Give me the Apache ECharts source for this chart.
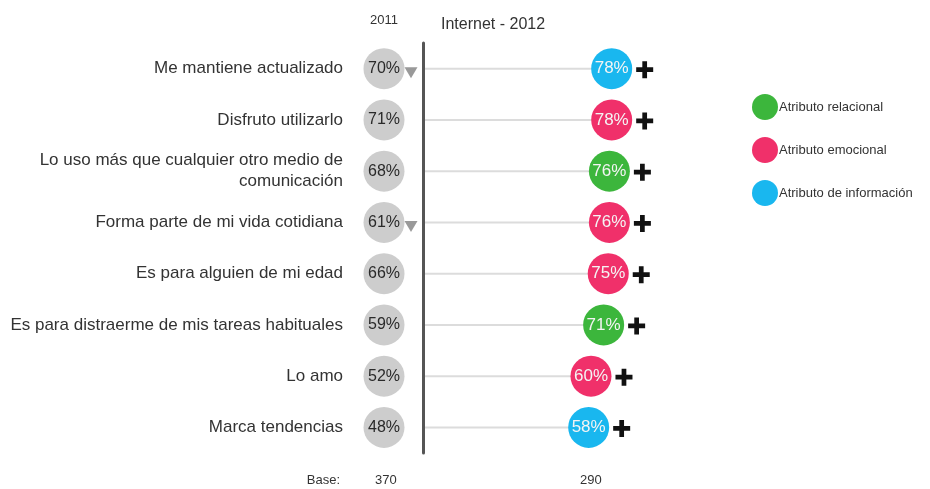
<!DOCTYPE html>
<html>
<head>
<meta charset="utf-8">
<script src="https://cdn.jsdelivr.net/npm/echarts@6/dist/echarts.min.js"></script>
<style>
html,body{margin:0;padding:0;background:#fff;}
#chart{width:930px;height:489px;}
</style>
</head>
<body>
<div id="chart"></div>
<script>
// ---- data ----
const categories = [
  'Me mantiene actualizado',
  'Disfruto utilizarlo',
  'Lo uso más que cualquier otro medio de\ncomunicación',
  'Forma parte de mi vida cotidiana',
  'Es para alguien de mi edad',
  'Es para distraerme de mis tareas habituales',
  'Lo amo',
  'Marca tendencias'
];
const values2011 = [70, 71, 68, 61, 66, 59, 52, 48];
const values2012 = [78, 78, 76, 76, 75, 71, 60, 58];
const attributeTypes = [
  'Atributo de información', 'Atributo emocional', 'Atributo relacional', 'Atributo emocional',
  'Atributo emocional', 'Atributo relacional', 'Atributo emocional', 'Atributo de información'
];
const declined2011 = [true, false, false, true, false, false, false, false];
const increased2012 = [true, true, true, true, true, true, true, true];
const legendNames = ['Atributo relacional', 'Atributo emocional', 'Atributo de información'];
const yearLabel2011 = '2011';
const yearLabel2012 = 'Internet - 2012';
const baseLabel = 'Base:';
const baseValues = [370, 290];

// ---- styles ----
const FONT = "'Liberation Sans', Arial, sans-serif";
const attrColors = {
  'Atributo relacional': '#3cb63c',
  'Atributo emocional': '#f0306a',
  'Atributo de información': '#19b7ef'
};
const PLUS = 'path://M6.5,0H11.5V6.5H18V11.5H11.5V18H6.5V11.5H0V6.5H6.5Z';

const chart = echarts.init(document.getElementById('chart'));

const attrSeries = legendNames.map(name => ({
  name: name,
  type: 'scatter',
  xAxisIndex: 0, yAxisIndex: 0,
  symbol: 'circle',
  symbolSize: 41,
  z: 3,
  clip: false,
  itemStyle: { color: attrColors[name], opacity: 1 },
  label: {
    show: true, position: 'inside', color: '#f4f4f4',
    fontFamily: FONT, fontSize: 17,
    formatter: p => p.value[0] + '%'
  },
  data: values2012.map((v, i) => attributeTypes[i] === name ? [v, i] : null).filter(d => d)
}));

const option = {
  animation: false,
  backgroundColor: '#ffffff',
  title: [
    { text: yearLabel2012, left: 436, top: 12,
      textStyle: { fontFamily: FONT, fontSize: 16, fontWeight: 'normal', color: '#333' } }
  ],
  legend: {
    data: legendNames,
    orient: 'vertical',
    left: 747, top: 89,
    itemWidth: 26, itemHeight: 26, itemGap: 17,
    icon: 'circle',
    textStyle: { fontFamily: FONT, fontSize: 13, color: '#333', padding: [0, 0, 0, -4] },
    selectedMode: false
  },
  grid: [
    { left: 423, right: 293, top: 43, height: 410 },
    { left: 363, width: 42, top: 43, height: 410 }
  ],
  xAxis: [
    { type: 'value', gridIndex: 0, min: -86, max: 100, show: false },
    { type: 'category', gridIndex: 1, position: 'top', data: [yearLabel2011],
      axisLine: { show: false }, axisTick: { show: false }, splitLine: { show: false },
      axisLabel: { margin: 16, fontFamily: FONT, fontSize: 13, color: '#333' } }
  ],
  yAxis: [
    { type: 'category', gridIndex: 0, inverse: true, data: categories,
      axisLine: { show: true, onZero: false, lineStyle: { color: '#555', width: 3 } },
      axisTick: { show: false },
      splitLine: { show: false },
      axisLabel: { margin: 80, fontFamily: FONT, fontSize: 17, color: '#333', lineHeight: 21, padding: [0, 0, 6, 0] } },
    { type: 'category', gridIndex: 1, inverse: true, data: categories, show: false }
  ],
  series: [
    {
      type: 'custom',
      xAxisIndex: 0, yAxisIndex: 0,
      z: 1,
      silent: true,
      data: values2012.map((v, i) => [v, i]),
      renderItem: function (params, api) {
        const end = api.coord([api.value(0), api.value(1)]);
        return {
          type: 'line',
          shape: { x1: params.coordSys.x + 2, y1: end[1], x2: end[0], y2: end[1] },
          style: { stroke: '#dcdcdc', lineWidth: 2 }
        };
      }
    },
    ...attrSeries,
    {
      name: 'increase',
      type: 'scatter',
      xAxisIndex: 0, yAxisIndex: 0,
      symbol: PLUS,
      symbolSize: 17,
      symbolOffset: [33, 1],
      clip: false,
      silent: true,
      z: 4,
      itemStyle: { color: '#111', opacity: 1 },
      data: values2012.map((v, i) => increased2012[i] ? [v, i] : null).filter(d => d)
    },
    {
      name: '2011',
      type: 'scatter',
      xAxisIndex: 1, yAxisIndex: 1,
      symbol: 'circle',
      symbolSize: 41,
      clip: false,
      z: 3,
      itemStyle: { color: '#cdcdcd', opacity: 1 },
      label: {
        show: true, position: 'inside', color: '#2a2a2a',
        fontFamily: FONT, fontSize: 16,
        formatter: p => p.value[2] + '%'
      },
      data: values2011.map((v, i) => [yearLabel2011, i, v])
    },
    {
      name: 'decline',
      type: 'scatter',
      xAxisIndex: 1, yAxisIndex: 1,
      symbol: 'triangle',
      symbolRotate: 180,
      symbolSize: [13, 11],
      symbolOffset: [27, 4],
      clip: false,
      silent: true,
      z: 4,
      itemStyle: { color: '#999', opacity: 1 },
      data: values2011.map((v, i) => declined2011[i] ? [yearLabel2011, i, v] : null).filter(d => d)
    }
  ],
  graphic: [
    { type: 'text', right: 930 - 340, top: 474,
      style: { text: baseLabel, font: '13px ' + FONT, fill: '#333' } },
    { type: 'text', left: 375, top: 474,
      style: { text: String(baseValues[0]), font: '13px ' + FONT, fill: '#333' } },
    { type: 'text', left: 580, top: 474,
      style: { text: String(baseValues[1]), font: '13px ' + FONT, fill: '#333' } }
  ]
};

chart.setOption(option);
</script>
</body>
</html>
